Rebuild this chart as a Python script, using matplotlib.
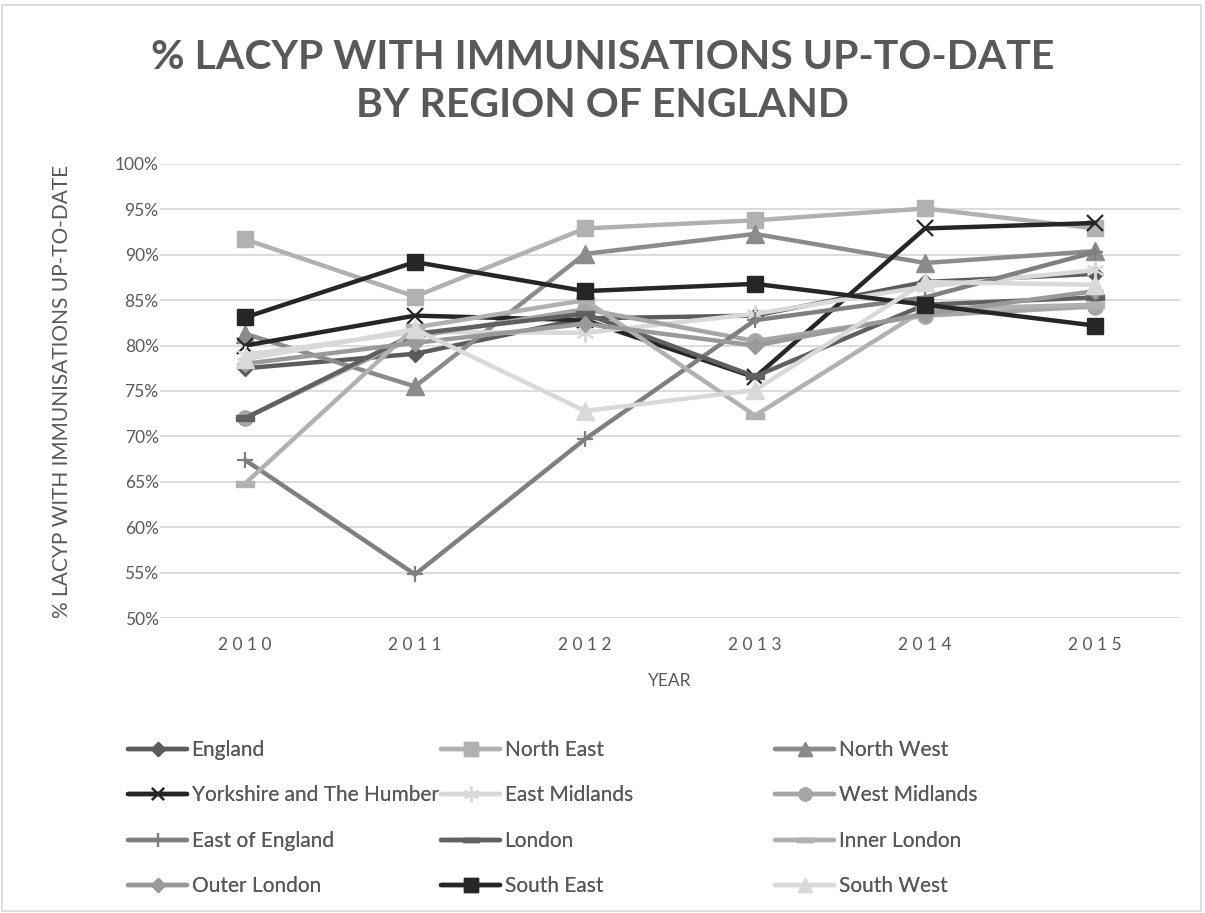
import matplotlib
matplotlib.use("Agg")
import matplotlib.pyplot as plt
from matplotlib.path import Path
from matplotlib.patches import Rectangle

plt.rcParams['font.family'] = ['Lato', 'DejaVu Sans']

years = ["2010", "2011", "2012", "2013", "2014", "2015"]

england = [77.5, 79.1, 83.0, 83.3, 87.0, 87.9]
north_east = [91.7, 85.4, 92.9, 93.8, 95.1, 92.9]
north_west = [81.3, 75.5, 90.1, 92.3, 89.1, 90.4]
yorkshire = [80.0, 83.3, 82.8, 76.5, 92.9, 93.5]
east_midlands = [79.0, 81.5, 81.4, 83.5, 86.5, 88.3]
west_midlands = [72.0, 81.0, 84.0, 80.5, 83.3, 84.3]
east_of_england = [67.4, 54.8, 69.7, 82.8, 85.3, 90.3]
london = [72.0, 81.3, 83.5, 76.6, 84.5, 85.3]
inner_london = [64.8, 82.0, 85.0, 72.3, 84.0, 84.5]
outer_london = [78.0, 80.3, 82.4, 80.0, 83.5, 86.0]
south_east = [83.1, 89.2, 86.0, 86.8, 84.5, 82.2]
south_west = [78.5, 81.8, 72.8, 75.1, 87.0, 86.7]

region_names = ["England", "North East", "North West", "Yorkshire and The Humber",
                "East Midlands", "West Midlands", "East of England", "London",
                "Inner London", "Outer London", "South East", "South West"]
region_values = [england, north_east, north_west, yorkshire, east_midlands,
                 west_midlands, east_of_england, london, inner_london,
                 outer_london, south_east, south_west]

# flat bar used as the "dash" marker
dash = Path([(-1, -0.28), (1, -0.28), (1, 0.28), (-1, 0.28), (-1, -0.28)],
            [Path.MOVETO, Path.LINETO, Path.LINETO, Path.LINETO, Path.CLOSEPOLY])

styles = [
    dict(color="#5b5b5b", marker="D", ms=8),
    dict(color="#b1b1b1", marker="s", ms=11.5),
    dict(color="#8b8b8b", marker="^", ms=12.5),
    dict(color="#262626", marker="x", ms=11, mew=1.6),
    dict(color="#d9d9d9", marker=(6, 2, 0), ms=13, mew=1.4),
    dict(color="#a6a6a6", marker="o", ms=11),
    dict(color="#7f7f7f", marker="+", ms=12, mew=1.6),
    dict(color="#606060", marker=dash, ms=13),
    dict(color="#b1b1b1", marker=dash, ms=13),
    dict(color="#9a9a9a", marker="D", ms=8),
    dict(color="#262626", marker="s", ms=11.5),
    dict(color="#d9d9d9", marker="^", ms=12.5),
]

text_col = "#595959"

fig = plt.figure(figsize=(12.05, 9.13), dpi=100)
fig.patches.append(Rectangle((0.002, 0.002), 0.995, 0.993, transform=fig.transFigure,
                             fill=False, edgecolor="#d9d9d9", linewidth=1.2))

ax = fig.add_axes([0.1328, 0.3231, 0.9793 - 0.1328, 0.8204 - 0.3231])
x = list(range(len(years)))
handles = []
for name, vals, st in zip(region_names, region_values, styles):
    st = dict(st)
    mew = st.pop("mew", 1.0)
    h, = ax.plot(x, vals, color=st["color"], lw=3.2, marker=st["marker"],
                 ms=st["ms"], mfc=st["color"], mec=st["color"], mew=mew,
                 label=name, solid_capstyle="round", solid_joinstyle="round")
    handles.append(h)

ax.set_xlim(-0.5, 5.5)
ax.set_ylim(50, 100)
ax.set_yticks(range(50, 101, 5))
ax.set_yticklabels([f"{v}%" for v in range(50, 101, 5)])
ax.set_xticks(x)
ax.set_xticklabels([" ".join(y) for y in years])
ax.grid(axis="y", color="#d9d9d9", lw=1.3)
ax.set_axisbelow(True)
for s in ax.spines.values():
    s.set_visible(False)
ax.tick_params(axis="both", length=0, colors=text_col, labelsize=12.5)
ax.tick_params(axis="x", pad=14)
ax.tick_params(axis="y", pad=1)

ax.set_xlabel("YEAR", color=text_col, fontsize=12.5, labelpad=14)
ax.set_ylabel("% LACYP WITH IMMUNISATIONS UP-TO-DATE", color=text_col,
              fontsize=15, labelpad=31)

fig.text(0.5, 0.937, "% LACYP WITH IMMUNISATIONS UP-TO-DATE", ha="center",
         va="center", fontsize=29.5, fontweight="bold", color=text_col)
fig.text(0.5, 0.884, "BY REGION OF ENGLAND", ha="center", va="center",
         fontsize=29.5, fontweight="bold", color=text_col)

# three legend columns, each filled top to bottom
col_x = [128, 441, 775]
for c in range(3):
    idx = [c + 3 * r for r in range(4)]
    leg = fig.legend([handles[i] for i in idx], [region_names[i] for i in idx],
                     loc="upper left", bbox_to_anchor=(col_x[c] / 1205, 1 - 740 / 913),
                     frameon=False, fontsize=15, handlelength=2.85,
                     handletextpad=0.2, labelspacing=1.22, borderpad=0,
                     borderaxespad=0, markerscale=0.85)
    for t in leg.get_texts():
        t.set_color(text_col)
    fig.add_artist(leg)

fig.savefig("out.png", dpi=100)
